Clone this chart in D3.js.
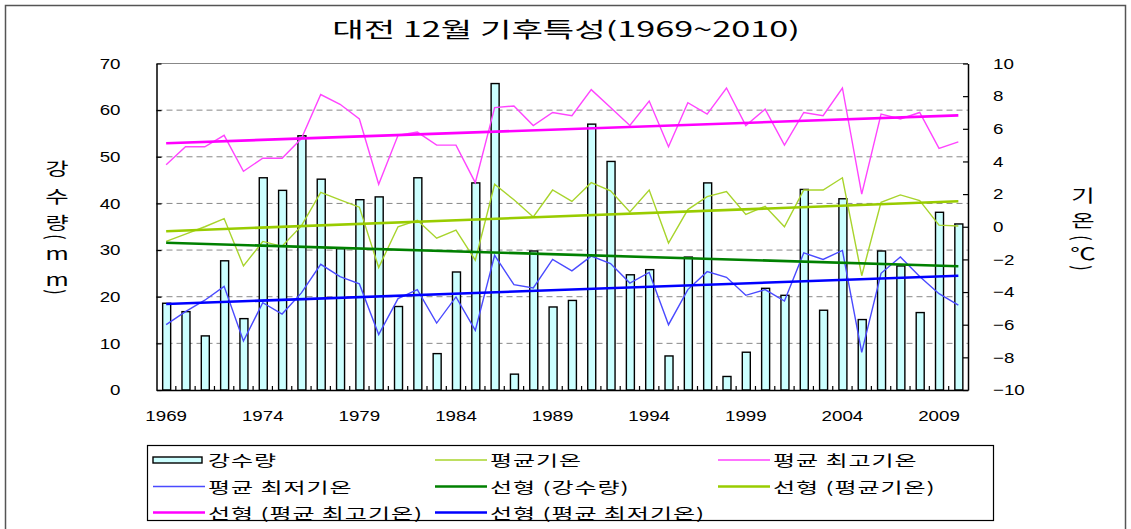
<!DOCTYPE html>
<html>
<head>
<meta charset="utf-8">
<script src="https://cdn.jsdelivr.net/npm/d3@7"></script>
<style>
  body { margin: 0; background: #fff; }
  svg { display: block; }
</style>
</head>
<body>
<svg id="chart" width="1131" height="529"></svg>
<script>
// data
const years = [1969, 1970, 1971, 1972, 1973, 1974, 1975, 1976, 1977, 1978, 1979, 1980, 1981, 1982,
  1983, 1984, 1985, 1986, 1987, 1988, 1989, 1990, 1991, 1992, 1993, 1994, 1995, 1996,
  1997, 1998, 1999, 2000, 2001, 2002, 2003, 2004, 2005, 2006, 2007, 2008, 2009, 2010]

const rain = [18.6, 16.8, 11.6, 27.7, 15.3, 45.5, 42.8, 54.5, 45.2, 30.3, 40.8, 41.4, 17.9, 45.5,
  7.8, 25.3, 44.4, 65.7, 3.4, 29.8, 17.8, 19.2, 57.0, 49.0, 24.7, 25.8, 7.3, 28.5,
  44.4, 2.9, 8.1, 21.8, 20.3, 43.0, 17.1, 41.0, 15.1, 29.8, 26.6, 16.6, 38.1, 35.6]

const tMean = [-0.9, -0.45, 0.0, 0.5, -2.4, -0.9, -1.2, 0.05, 2.1, 1.65, 1.2, -2.5, 0.0, 0.4,
  -0.7, -0.2, -2.05, 2.6, 1.65, 0.6, 2.25, 1.55, 2.7, 2.2, 0.9, 2.25, -1.0, 1.05,
  1.85, 2.15, 0.75, 1.25, 0.0, 2.25, 2.25, 3.0, -3.0, 1.5, 1.95, 1.6, 0.1, 0.05]

const tMax = [3.8, 4.9, 4.9, 5.6, 3.4, 4.2, 4.2, 5.4, 8.1, 7.5, 6.6, 2.6, 5.6, 5.8,
  5.0, 5.0, 2.7, 7.3, 7.4, 6.2, 7.0, 6.8, 8.4, 7.3, 6.2, 7.7, 4.9, 7.6,
  6.9, 8.5, 6.2, 7.2, 5.0, 7.0, 6.8, 8.5, 2.0, 6.9, 6.6, 7.0, 4.8, 5.2]

const tMin = [-6.0, -5.2, -4.5, -3.65, -7.0, -4.65, -5.35, -4.05, -2.3, -3.05, -3.5, -6.6, -4.4, -3.85,
  -5.9, -4.3, -6.35, -1.75, -3.55, -3.75, -2.0, -2.7, -1.8, -2.25, -3.45, -2.8, -6.0, -3.85,
  -2.75, -3.1, -4.2, -3.85, -4.55, -1.6, -2.0, -1.45, -7.7, -2.85, -1.85, -3.05, -4.1, -4.8]

const yearLabels = [1969, 1974, 1979, 1984, 1989, 1994, 1999, 2004, 2009]
const leftTicks = [0, 10, 20, 30, 40, 50, 60, 70]
const rightTicks = [-10, -8, -6, -4, -2, 0, 2, 4, 6, 8, 10]
const gridTicks = [10, 20, 30, 40, 50, 60]

const title = '대전 12월 기후특성(1969~2010)'
const leftTitle = ['강', '수', '량', '(', 'm', 'm', ')']
const rightTitle = ['기', '온', '(', '℃', ')']
const legendNames = ['강수량', '평균기온', '평균 최고기온', '평균 최저기온',
  '선형 (강수량)', '선형 (평균기온)', '선형 (평균 최고기온)', '선형 (평균 최저기온)']

const KR = '"Noto Sans CJK KR", "Noto Sans", sans-serif'
const NUM = '"Liberation Sans", Arial, sans-serif'

const svg = d3.select('#chart')
const plot = { left: 156.5, right: 968, top: 63.5, bottom: 390 }

const x = d3.scaleBand().domain(years).range([plot.left, plot.right])
const xc = yr => x(yr) + x.bandwidth() / 2
const yL = d3.scaleLinear().domain([0, 70]).range([plot.bottom, plot.top])
const yR = d3.scaleLinear().domain([-10, 10]).range([plot.bottom, plot.top])

// least squares trend, same as the spreadsheet "linear" trendline
const trend = vals => {
  const n = vals.length
  const xm = (n - 1) / 2
  const ym = d3.mean(vals)
  let sxy = 0, sxx = 0
  vals.forEach((v, i) => { sxy += (i - xm) * (v - ym); sxx += (i - xm) ** 2 })
  const b = sxy / sxx
  return [[0, ym - b * xm], [n - 1, ym + b * (n - 1 - xm)]]
}

// outer frame
svg.append('rect')
  .attr('x', 5.5).attr('y', 5.5).attr('width', 1120).attr('height', 530)
  .attr('fill', 'none').attr('stroke', '#555').attr('stroke-width', 1.5)

// stretched text helper (the original font is wide)
const stext = (parent, str, px, py, opts) => {
  const g = parent.append('g')
    .attr('transform', `translate(${px},${py}) scale(${opts.sx || 1},1)`)
  return g.append('text')
    .attr('font-family', opts.family || KR)
    .attr('font-size', opts.size || 15)
    .attr('text-anchor', opts.anchor || 'start')
    .attr('dominant-baseline', 'central')
    .attr('letter-spacing', opts.ls || 0)
    .attr('fill', '#000')
    .text(str)
}

stext(svg, title, 566, 28, { size: 21, sx: 1.63, anchor: 'middle' })

// grid
svg.append('g').selectAll('line').data(gridTicks).join('line')
  .attr('x1', plot.left).attr('x2', plot.right)
  .attr('y1', d => yL(d)).attr('y2', d => yL(d))
  .attr('stroke', '#888').attr('stroke-dasharray', '6,4').attr('stroke-width', 1)

svg.append('line')
  .attr('x1', plot.left).attr('x2', plot.right)
  .attr('y1', plot.top).attr('y2', plot.top)
  .attr('stroke', '#888').attr('stroke-width', 1.2)

// bars
const barW = 8
svg.append('g').selectAll('rect').data(rain).join('rect')
  .attr('x', (d, i) => xc(years[i]) - barW / 2 + 0.5)
  .attr('y', d => yL(d))
  .attr('width', barW)
  .attr('height', d => yL(0) - yL(d))
  .attr('fill', '#ccffff').attr('stroke', '#000').attr('stroke-width', 1.4)

// axes
const sxNum = 1.25
const gL = svg.append('g').attr('transform', `translate(${plot.left},0)`)
  .call(d3.axisLeft(yL).tickValues(leftTicks).tickSizeInner(-5).tickSizeOuter(0).tickPadding(36))
gL.select('.domain').attr('stroke', '#000').attr('stroke-width', 1.5)
gL.selectAll('.tick line').attr('stroke', '#000').attr('stroke-width', 1.2)
gL.selectAll('text').attr('font-family', NUM).attr('font-size', 15)
  .attr('x', -36 / sxNum).attr('transform', `scale(${sxNum},1)`)

const gR = svg.append('g').attr('transform', `translate(${plot.right},0)`)
  .call(d3.axisRight(yR).tickValues(rightTicks).tickSizeInner(-5).tickSizeOuter(0).tickPadding(25))
gR.select('.domain').attr('stroke', '#000').attr('stroke-width', 1.5)
gR.selectAll('.tick line').attr('stroke', '#000').attr('stroke-width', 1.2)
gR.selectAll('text').attr('font-family', NUM).attr('font-size', 15)
  .attr('x', 25 / sxNum).attr('transform', `scale(${sxNum},1)`)

const gB = svg.append('g').attr('transform', `translate(0,${plot.bottom})`)
  .call(d3.axisBottom(x).tickValues(yearLabels).tickSize(0).tickPadding(20))
gB.select('.domain').attr('stroke', '#000').attr('stroke-width', 1.5)
gB.selectAll('text').attr('font-family', NUM).attr('font-size', 15)
  .attr('transform', `scale(${sxNum},1)`)

// small inward ticks between the categories
svg.append('g').selectAll('line').data(years.slice(1)).join('line')
  .attr('x1', d => x(d)).attr('x2', d => x(d))
  .attr('y1', plot.bottom).attr('y2', plot.bottom - 4)
  .attr('stroke', '#000').attr('stroke-width', 1.2)

// lines
const lineR = d3.line().x((d, i) => xc(years[i])).y(d => yR(d))
const series = [
  { vals: tMean, color: '#a8d42c' },
  { vals: tMax, color: '#ff44ff' },
  { vals: tMin, color: '#4a4aff' }
]
series.forEach(s => {
  svg.append('path').datum(s.vals)
    .attr('d', lineR)
    .attr('fill', 'none').attr('stroke', s.color).attr('stroke-width', 1.4)
})

const trends = [
  { vals: rain, scale: yL, color: '#008000' },
  { vals: tMean, scale: yR, color: '#99cc00' },
  { vals: tMax, scale: yR, color: '#ff00ff' },
  { vals: tMin, scale: yR, color: '#0000ff' }
]
trends.forEach(t => {
  const pts = trend(t.vals)
  svg.append('path').datum(pts)
    .attr('d', d3.line().x(d => xc(years[d[0]])).y(d => t.scale(d[1])))
    .attr('fill', 'none').attr('stroke', t.color).attr('stroke-width', 2.6)
})

// axis titles, one stacked glyph at a time
const leftY = [168, 196, 222, 237, 253, 279, 292]
leftTitle.forEach((c, i) => {
  const paren = c === '(' || c === ')'
  const t = stext(svg, c, 57, leftY[i], { size: paren ? 15 : 17, sx: 1.5, anchor: 'middle' })
  if (paren) t.attr('transform', 'rotate(90)')
})
const rightY = [195, 220, 238, 253, 268]
rightTitle.forEach((c, i) => {
  const paren = c === '(' || c === ')'
  const t = stext(svg, c, 1083, rightY[i], { size: paren ? 15 : 17, sx: 1.5, anchor: 'middle' })
  if (paren) t.attr('transform', 'rotate(90)')
})

// legend
svg.append('rect')
  .attr('x', 147.5).attr('y', 445.5).attr('width', 846).attr('height', 75)
  .attr('fill', '#fff').attr('stroke', '#000').attr('stroke-width', 1.2)

const legendStyle = [
  { type: 'bar' },
  { color: '#a8d42c', w: 1.4 },
  { color: '#ff44ff', w: 1.4 },
  { color: '#4a4aff', w: 1.4 },
  { color: '#008000', w: 2.6 },
  { color: '#99cc00', w: 2.6 },
  { color: '#ff00ff', w: 2.6 },
  { color: '#0000ff', w: 2.6 }
]
const colX = [153, 435, 718]
const rowY = [460, 486.5, 512.5]
legendNames.forEach((name, i) => {
  const lx = colX[i % 3], ly = rowY[Math.floor(i / 3)]
  const st = legendStyle[i]
  if (st.type === 'bar') {
    svg.append('rect').attr('x', lx).attr('y', ly - 3).attr('width', 49).attr('height', 6)
      .attr('fill', '#ccffff').attr('stroke', '#000').attr('stroke-width', 1.4)
  } else {
    svg.append('line').attr('x1', lx).attr('x2', lx + 52).attr('y1', ly).attr('y2', ly)
      .attr('stroke', st.color).attr('stroke-width', st.w)
  }
  stext(svg, name, lx + 55, ly, { size: 15, sx: 1.6, ls: 0.6 })
})
</script>
</body>
</html>
